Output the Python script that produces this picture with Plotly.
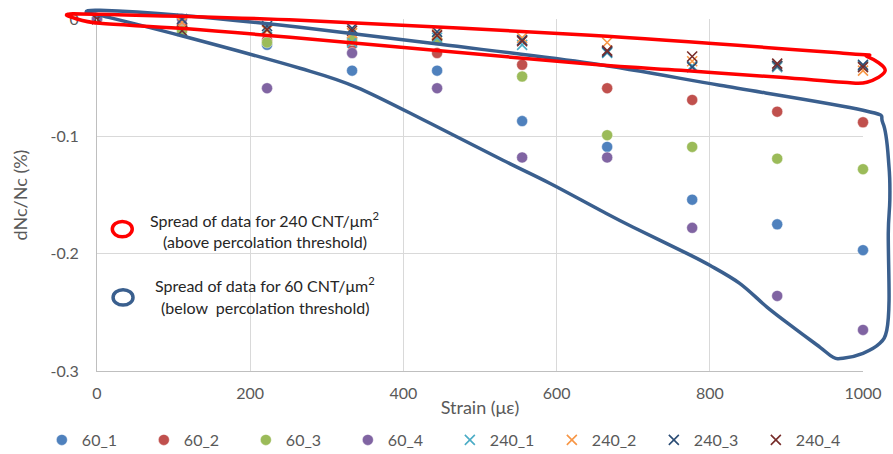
import plotly.graph_objects as go

# ---------------- data ----------------
strain = [0, 111, 222, 333, 444, 555, 666, 777, 888, 1000]

s60_1 = [0, -0.008, -0.022, -0.044, -0.044, -0.087, -0.109, -0.154, -0.175, -0.197]
s60_2 = [0, -0.005, -0.018, -0.022, -0.029, -0.039, -0.059, -0.069, -0.079, -0.088]
s60_3 = [0, -0.010, -0.020, -0.018, -0.018, -0.049, -0.099, -0.109, -0.119, -0.128]
s60_4 = [0, 0.000, -0.059, -0.029, -0.059, -0.118, -0.118, -0.178, -0.236, -0.265]

s240_1 = [0, -0.010, -0.008, -0.020, -0.016, -0.022, -0.029, -0.040, -0.041, -0.040]
s240_2 = [0, -0.003, -0.010, -0.012, -0.013, -0.016, -0.020, -0.036, -0.040, -0.044]
s240_3 = [0, 0.000, -0.006, -0.008, -0.011, -0.018, -0.028, -0.041, -0.040, -0.039]
s240_4 = [0, -0.010, -0.009, -0.010, -0.014, -0.019, -0.027, -0.032, -0.038, -0.041]

series_names = ["60_1", "60_2", "60_3", "60_4", "240_1", "240_2", "240_3", "240_4"]
series_vals = [s60_1, s60_2, s60_3, s60_4, s240_1, s240_2, s240_3, s240_4]
colors = ["#4F81BD", "#C0504D", "#9BBB59", "#8064A2",
          "#4BACC6", "#F79646", "#2C4D75", "#772C2A"]

x_ticks = [0, 200, 400, 600, 800, 1000]
y_ticks = [0, -0.1, -0.2, -0.3]
y_tick_text = ["0", "-0.1", "-0.2", "-0.3"]

# hand-drawn outlines (in strain / dNc units)
red_outline_x = [-38, 4, 265, 644, 974, 1005, 1029, 1005, 974, 892, 762, 631, 252, 108, 4, -29]
red_outline_y = [0.0040, 0.0040, -0.0011, -0.0139, -0.0292, -0.0318, -0.0437, -0.0539,
                 -0.0539, -0.0497, -0.0437, -0.0378, -0.0156, -0.0079, -0.0037, 0.0006]

blue_outline_x = [-14, 4, 108, 265, 448, 644, 813, 1000, 1026, 1034, 1035, 1033, 1034, 1031,
                  1022, 1000, 974, 961, 944, 909, 875, 839, 800, 770, 700, 657, 591, 530,
                  435, 339, 265, 108, 4]
blue_outline_y = [0.0057, 0.0074, 0.0032, -0.0071, -0.0216, -0.0378, -0.0565, -0.0778,
                  -0.0889, -0.1264, -0.1545, -0.1826, -0.2398, -0.2653, -0.2764, -0.2849,
                  -0.2892, -0.2883, -0.2798, -0.2628, -0.2457, -0.2253, -0.2099, -0.1997,
                  -0.1775, -0.1630, -0.1400, -0.1204, -0.0889, -0.0582, -0.0420, -0.0139,
                  0.0032]

XR = (0, 1000)
YR = (-0.3, 0)


def to_paper(x, y):
    return (x - XR[0]) / (XR[1] - XR[0]), (y - YR[0]) / (YR[1] - YR[0])


def closed_spline_path(xs, ys):
    pts = [to_paper(a, b) for a, b in zip(xs, ys)]
    n = len(pts)
    d = "M %.5f,%.5f" % pts[0]
    for i in range(n):
        p0 = pts[(i - 1) % n]
        p1 = pts[i]
        p2 = pts[(i + 1) % n]
        p3 = pts[(i + 2) % n]
        c1 = (p1[0] + (p2[0] - p0[0]) / 6, p1[1] + (p2[1] - p0[1]) / 6)
        c2 = (p2[0] - (p3[0] - p1[0]) / 6, p2[1] - (p3[1] - p1[1]) / 6)
        d += " C %.5f,%.5f %.5f,%.5f %.5f,%.5f" % (c1 + c2 + p2)
    return d + " Z"


FONT = "Lato"
GREY = "#595959"
FS = 16
TFS = 18

fig = go.Figure()
for i, (name, vals) in enumerate(zip(series_names, series_vals)):
    if i < 4:
        marker = dict(symbol="circle", size=11, color=colors[i],
                      line=dict(width=0.6, color="rgba(255,255,255,0.7)"))
    else:
        marker = dict(symbol="x-thin", size=10, color=colors[i],
                      line=dict(width=1.6, color=colors[i]))
    fig.add_trace(go.Scatter(x=strain, y=vals, mode="markers", name=name,
                             marker=marker, cliponaxis=False))

shapes = [
    dict(type="path", xref="paper", yref="paper",
         path=closed_spline_path(blue_outline_x, blue_outline_y),
         line=dict(color="#3A5F8E", width=3.5), layer="above"),
    dict(type="path", xref="paper", yref="paper",
         path=closed_spline_path(red_outline_x, red_outline_y),
         line=dict(color="#FF0000", width=3.5), layer="above"),
    dict(type="circle", xref="x", yref="y", x0=20, x1=46, y0=-0.1856, y1=-0.1725,
         line=dict(color="#FF0000", width=3.5)),
    dict(type="circle", xref="x", yref="y", x0=21, x1=47, y0=-0.2438, y1=-0.2307,
         line=dict(color="#3A5F8E", width=3.5)),
]

ann_font = dict(family=FONT, size=FS, color="#262626")
annotations = [
    dict(x=219, y=-0.1705, xref="x", yref="y", showarrow=False, font=ann_font,
         text="Spread of data for 240 CNT/μm<sup>2</sup>"),
    dict(x=219, y=-0.190, xref="x", yref="y", showarrow=False, font=ann_font,
         text="(above percolation threshold)"),
    dict(x=219, y=-0.2265, xref="x", yref="y", showarrow=False, font=ann_font,
         text="Spread of data for 60 CNT/μm<sup>2</sup>"),
    dict(x=219, y=-0.246, xref="x", yref="y", showarrow=False, font=ann_font,
         text="(below  percolation threshold)"),
]

fig.update_layout(
    width=893, height=454,
    margin=dict(l=97, r=30, t=19, b=83, autoexpand=False),
    paper_bgcolor="white", plot_bgcolor="white",
    font=dict(family=FONT, size=FS, color=GREY),
    shapes=shapes, annotations=annotations,
    legend=dict(orientation="h", xref="paper", yref="paper",
                x=-0.072, y=-0.196, xanchor="left", yanchor="middle",
                entrywidth=57, entrywidthmode="pixels",
                font=dict(family=FONT, size=FS, color=GREY),
                bgcolor="rgba(0,0,0,0)"),
    showlegend=True,
)
fig.update_xaxes(range=list(XR), tickvals=x_ticks, showgrid=True, gridcolor="#D9D9D9",
                 gridwidth=1, zeroline=False, showline=True, linecolor="#BFBFBF",
                 linewidth=1, ticks="", ticklabelstandoff=8, automargin=False,
                 tickfont=dict(family=FONT, size=FS, color=GREY),
                 title=dict(text="Strain (με)", standoff=0,
                            font=dict(family=FONT, size=TFS, color=GREY)))
fig.update_yaxes(range=list(YR), tickvals=y_ticks, ticktext=y_tick_text, showgrid=True,
                 gridcolor="#D9D9D9", gridwidth=1, zeroline=False, showline=True,
                 linecolor="#BFBFBF", linewidth=1, ticks="", ticklabelstandoff=14,
                 automargin=False,
                 tickfont=dict(family=FONT, size=FS, color=GREY),
                 title=dict(text="dNc/Nc (%)", standoff=18,
                            font=dict(family=FONT, size=TFS, color=GREY)))

fig.write_html("out.html", config={"displayModeBar": False},
               post_script="document.body.style.margin='0px';document.body.style.overflow='hidden';")
